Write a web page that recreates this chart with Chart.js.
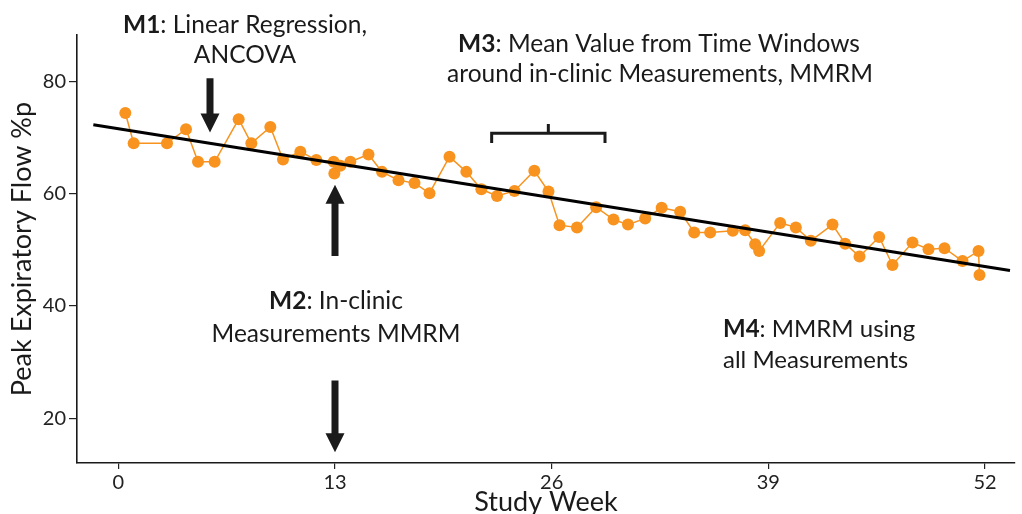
<!DOCTYPE html>
<html>
<head>
<meta charset="utf-8">
<script src="https://cdn.jsdelivr.net/npm/chart.js"></script>
<style>
  html, body { margin: 0; padding: 0; background: #fff; overflow: hidden; }
  #wrap { width: 1022px; height: 514px; }
</style>
</head>
<body>
<div id="wrap"><canvas id="graph" width="1022" height="514"></canvas></div>
<script>
var weeks = [0.42, 0.92, 2.92, 4.06, 4.78, 5.78, 7.22, 7.98, 9.12, 9.88,
  10.92, 11.88, 12.92, 12.96, 13.32, 13.92, 15.01, 15.82, 16.81, 17.77,
  18.67, 19.87, 20.88, 21.78, 22.72, 23.77, 24.96, 25.81, 26.47, 27.52,
  28.67, 29.71, 30.58, 31.61, 32.6, 33.71, 34.55, 35.51, 36.87, 37.61,
  38.21, 38.45, 39.71, 40.65, 41.55, 42.85, 43.61, 44.47, 45.65, 46.45,
  47.65, 48.61, 49.57, 50.65, 51.61, 51.67];
var pef = [74.4, 69.0, 69.0, 71.5, 65.7, 65.7, 73.3, 69.0, 71.9, 66.1,
  67.5, 66.0, 65.7, 63.6, 65.0, 65.7, 67.0, 63.9, 62.4, 61.9,
  60.1, 66.6, 63.9, 60.8, 59.6, 60.5, 64.1, 60.4, 54.4, 54.0,
  57.6, 55.4, 54.5, 55.6, 57.5, 56.8, 53.1, 53.1, 53.4, 53.5,
  51.0, 49.8, 54.8, 54.0, 51.6, 54.5, 51.1, 48.8, 52.3, 47.3,
  51.3, 50.1, 50.3, 48.0, 49.8, 45.5];
var trendWeeks = [-1.5, 53.5];
var trendValues = [72.3, 46.3];
var xTicks = [0, 13, 26, 39, 52];
var yTicks = [20, 40, 60, 80];

var ink = '#1a1a1a';
var orange = '#f7931e';
var FONT = 'Lato';

function pts(xs, ys) {
  return xs.map(function (x, i) { return {x: x, y: ys[i]}; });
}

// text notes: [text, bold] parts, baseline y in px
var notes = [
  {x: 245, y: 33, size: 24.5, align: 'center', parts: [['M1', true], [': Linear Regression,', false]]},
  {x: 245, y: 63, size: 24.5, align: 'center', parts: [['ANCOVA', false]]},
  {x: 659, y: 52, size: 24.5, align: 'center', parts: [['M3', true], [': Mean Value from Time Windows', false]]},
  {x: 660, y: 82, size: 24.5, align: 'center', parts: [['around in-clinic Measurements, MMRM', false]]},
  {x: 336, y: 309, size: 24.5, align: 'center', parts: [['M2', true], [': In-clinic', false]]},
  {x: 336, y: 342, size: 24.5, align: 'center', parts: [['Measurements MMRM', false]]},
  {x: 723, y: 337, size: 24, align: 'left', parts: [['M4', true], [': MMRM using', false]]},
  {x: 723, y: 368, size: 24, align: 'left', parts: [['all Measurements', false]]}
];
// arrows in data units: week, from value, to value (tip)
var arrows = [
  {week: 5.5, from: 80.6, to: 70.9},
  {week: 13, from: 48.9, to: 61.6},
  {week: 13, from: 26.7, to: 13.9}
];
var bracket = {center: 25.8, half: 3.4, value: 70.8, drop: 69.05, tick: 72.45};

var notesPlugin = {
  id: 'notes',
  afterDraw: function (chart) {
    var ctx = chart.ctx;
    var xs = chart.scales.x, ys = chart.scales.y;
    ctx.save();
    ctx.fillStyle = ink;
    ctx.strokeStyle = ink;
    ctx.textBaseline = 'alphabetic';
    ctx.textAlign = 'left';
    notes.forEach(function (n) {
      var widths = n.parts.map(function (p) {
        ctx.font = (p[1] ? 'bold ' : '') + n.size + 'px ' + FONT;
        return ctx.measureText(p[0]).width;
      });
      var total = widths.reduce(function (a, b) { return a + b; }, 0);
      var x = n.align === 'center' ? n.x - total / 2 : n.x;
      n.parts.forEach(function (p, i) {
        ctx.font = (p[1] ? 'bold ' : '') + n.size + 'px ' + FONT;
        ctx.fillText(p[0], x, n.y);
        x += widths[i];
      });
    });

    arrows.forEach(function (a) {
      var x = xs.getPixelForValue(a.week);
      var y0 = ys.getPixelForValue(a.from);
      var y1 = ys.getPixelForValue(a.to);
      var dir = y1 > y0 ? 1 : -1;
      var headL = 19, headW = 9.5, shaft = 3.5;
      var yb = y1 - dir * headL;
      ctx.beginPath();
      ctx.moveTo(x - shaft, y0);
      ctx.lineTo(x + shaft, y0);
      ctx.lineTo(x + shaft, yb);
      ctx.lineTo(x + headW, yb);
      ctx.lineTo(x, y1);
      ctx.lineTo(x - headW, yb);
      ctx.lineTo(x - shaft, yb);
      ctx.closePath();
      ctx.fill();
    });

    var bl = xs.getPixelForValue(bracket.center - bracket.half);
    var br = xs.getPixelForValue(bracket.center + bracket.half);
    var bc = xs.getPixelForValue(bracket.center);
    var by = ys.getPixelForValue(bracket.value);
    var bd = ys.getPixelForValue(bracket.drop);
    var bt = ys.getPixelForValue(bracket.tick);
    ctx.lineWidth = 3;
    ctx.lineCap = 'butt';
    ctx.lineJoin = 'miter';
    ctx.beginPath();
    ctx.moveTo(bl, bd);
    ctx.lineTo(bl, by);
    ctx.lineTo(br, by);
    ctx.lineTo(br, bd);
    ctx.moveTo(bc, by);
    ctx.lineTo(bc, bt);
    ctx.stroke();
    ctx.restore();
  }
};

var config = {
  type: 'scatter',
  data: {
    datasets: [{
      label: 'Regression',
      data: pts(trendWeeks, trendValues),
      showLine: true,
      borderColor: '#000',
      borderWidth: 3,
      pointRadius: 0
    }, {
      label: 'Peak expiratory flow',
      data: pts(weeks, pef),
      showLine: true,
      borderColor: orange,
      borderWidth: 1.5,
      backgroundColor: orange,
      pointBackgroundColor: orange,
      pointBorderWidth: 0,
      pointRadius: 6
    }]
  },
  options: {
    responsive: false,
    animation: false,
    layout: { padding: { top: 35, right: 7, left: 0, bottom: 0 } },
    plugins: { legend: { display: false }, tooltip: { enabled: false } },
    scales: {
      x: {
        type: 'linear',
        min: -2.48,
        max: 53.8,
        afterBuildTicks: function (s) { s.ticks = xTicks.map(function (v) { return {value: v}; }); },
        afterFit: function (s) { s.height = 51; },
        grid: { display: true, drawOnChartArea: false, drawTicks: true, tickLength: 6, color: '#222', lineWidth: 1.2 },
        border: { display: true, color: '#1a1a1a', width: 1.6 },
        ticks: { color: '#222', font: { family: FONT, size: 20 }, padding: 2, maxRotation: 0 },
        title: { display: true, text: 'Study Week', color: '#1a1a1a', font: { family: FONT, size: 27 }, padding: { top: 0, bottom: -4 } }
      },
      y: {
        type: 'linear',
        min: 12,
        max: 88.3,
        afterBuildTicks: function (s) { s.ticks = yTicks.map(function (v) { return {value: v}; }); },
        afterFit: function (s) { s.width = 77; },
        grid: { display: true, drawOnChartArea: false, drawTicks: true, tickLength: 8, color: '#222', lineWidth: 1.2 },
        border: { display: true, color: '#1a1a1a', width: 1.6 },
        ticks: { color: '#222', font: { family: FONT, size: 20 }, padding: 3 },
        title: { display: true, text: 'Peak Expiratory Flow %p', color: '#1a1a1a', font: { family: FONT, size: 27 }, padding: { top: 6, bottom: 0 } }
      }
    }
  },
  plugins: [notesPlugin]
};

var myChart = new Chart(document.getElementById('graph'), config);
</script>
</body>
</html>
